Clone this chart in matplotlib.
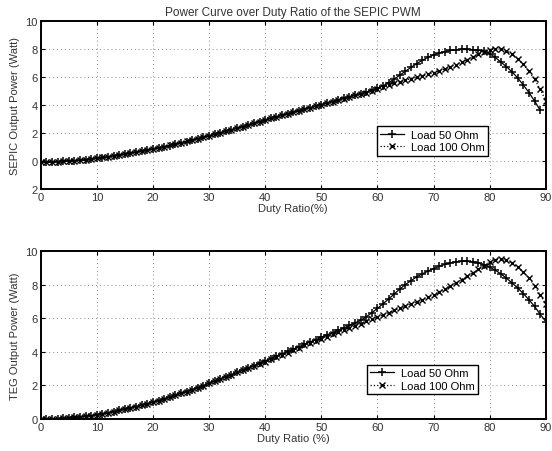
import numpy as np
from matplotlib import pyplot as plt

# duty ratio (%) and output power (W)
duty_sepic_50 = np.arange(0, 90)
duty_sepic_100 = np.arange(0, 91)
duty_teg = np.arange(0, 91)

sepic_50 = [-0.08, -0.07, -0.06, -0.05, -0.03, -0.01, 0.02, 0.05, 0.09, 0.14,
            0.19, 0.24, 0.30, 0.36, 0.42, 0.48, 0.55, 0.62, 0.69, 0.77,
            0.85, 0.93, 1.01, 1.10, 1.19, 1.28, 1.38, 1.48, 1.58, 1.68,
            1.78, 1.89, 2.00, 2.11, 2.22, 2.33, 2.44, 2.56, 2.68, 2.80,
            2.92, 3.03, 3.14, 3.25, 3.36, 3.47, 3.58, 3.69, 3.80, 3.91,
            4.02, 4.13, 4.24, 4.35, 4.46, 4.57, 4.68, 4.79, 4.91, 5.04,
            5.18, 5.36, 5.58, 5.84, 6.12, 6.40, 6.68, 6.94, 7.18, 7.39,
            7.56, 7.70, 7.80, 7.88, 7.93, 7.95, 7.95, 7.94, 7.90, 7.82,
            7.66, 7.38, 7.06, 6.72, 6.35, 5.92, 5.42, 4.88, 4.28, 3.62]

sepic_100 = [-0.07, -0.07, -0.06, -0.05, -0.03, -0.01, 0.02, 0.05, 0.09, 0.14,
             0.19, 0.25, 0.31, 0.37, 0.43, 0.49, 0.56, 0.63, 0.70, 0.78,
             0.86, 0.94, 1.02, 1.11, 1.20, 1.29, 1.39, 1.49, 1.59, 1.69,
             1.79, 1.90, 2.01, 2.12, 2.23, 2.34, 2.45, 2.57, 2.69, 2.81,
             2.92, 3.03, 3.14, 3.25, 3.36, 3.47, 3.58, 3.69, 3.80, 3.91,
             4.01, 4.12, 4.23, 4.34, 4.45, 4.56, 4.67, 4.78, 4.88, 5.00,
             5.13, 5.26, 5.40, 5.55, 5.66, 5.76, 5.86, 5.96, 6.06, 6.17,
             6.29, 6.42, 6.56, 6.71, 6.87, 7.04, 7.22, 7.41, 7.60, 7.78,
             7.93, 8.00, 7.97, 7.85, 7.62, 7.30, 6.88, 6.40, 5.82, 5.12,
             4.30]

teg_50 = [0.00, 0.00, 0.01, 0.02, 0.04, 0.06, 0.09, 0.12, 0.16, 0.20,
          0.25, 0.31, 0.37, 0.44, 0.51, 0.58, 0.66, 0.74, 0.82, 0.91,
          1.00, 1.10, 1.20, 1.30, 1.41, 1.52, 1.63, 1.75, 1.87, 1.99,
          2.12, 2.25, 2.38, 2.51, 2.64, 2.77, 2.90, 3.04, 3.18, 3.32,
          3.46, 3.60, 3.74, 3.88, 4.02, 4.16, 4.30, 4.44, 4.58, 4.72,
          4.86, 5.00, 5.14, 5.28, 5.42, 5.57, 5.72, 5.88, 6.08, 6.32,
          6.58, 6.86, 7.14, 7.44, 7.74, 8.00, 8.24, 8.46, 8.64, 8.80,
          8.95, 9.08, 9.20, 9.29, 9.35, 9.38, 9.38, 9.36, 9.30, 9.18,
          9.04, 8.86, 8.64, 8.38, 8.10, 7.80, 7.46, 7.10, 6.70, 6.24,
          5.80]

teg_100 = [0.00, 0.00, 0.01, 0.02, 0.04, 0.06, 0.09, 0.12, 0.16, 0.20,
           0.25, 0.31, 0.37, 0.44, 0.51, 0.58, 0.66, 0.74, 0.82, 0.91,
           1.00, 1.10, 1.20, 1.30, 1.41, 1.52, 1.63, 1.75, 1.87, 1.99,
           2.12, 2.25, 2.38, 2.51, 2.64, 2.77, 2.90, 3.03, 3.16, 3.29,
           3.42, 3.55, 3.68, 3.81, 3.95, 4.12, 4.25, 4.38, 4.51, 4.64,
           4.77, 4.90, 5.03, 5.16, 5.29, 5.42, 5.55, 5.68, 5.81, 5.94,
           6.07, 6.20, 6.33, 6.46, 6.59, 6.72, 6.85, 6.98, 7.11, 7.25,
           7.40, 7.56, 7.73, 7.91, 8.10, 8.30, 8.50, 8.70, 8.90, 9.10,
           9.35, 9.48, 9.50, 9.44, 9.28, 9.06, 8.76, 8.40, 7.94, 7.38,
           6.85]

x_ticks = [0, 10, 20, 30, 40, 50, 60, 70, 80, 90]
sepic_yticks = [-2, 0, 2, 4, 6, 8, 10]
sepic_yticklabels = ['2', '0', '2', '4', '6', '8', '10']
teg_yticks = [0, 2, 4, 6, 8, 10]

plt.rcParams['font.family'] = ['Liberation Sans', 'DejaVu Sans']
text_col = '#333333'

fig = plt.figure(figsize=(5.52, 4.52), dpi=100)
ax1 = fig.add_axes([0.0737, 0.5796, 0.915, 0.3723])
ax2 = fig.add_axes([0.0737, 0.0708, 0.915, 0.3717])


def style(ax):
    ax.set_xlim(0, 90)
    ax.set_xticks(x_ticks)
    ax.grid(True, linestyle=(0, (1, 3)), color='#8a8a8a', linewidth=0.7)
    ax.tick_params(direction='in', length=3, labelsize=8, colors='black',
                   labelcolor=text_col, top=True, right=True, pad=2)
    for s in ax.spines.values():
        s.set_linewidth(1.4)


ax1.plot(duty_sepic_50, sepic_50, 'k-', marker='+', markersize=6, linewidth=0.9,
         markeredgewidth=1.1, label='Load 50 Ohm')
ax1.plot(duty_sepic_100, sepic_100, 'k:', marker='x', markersize=4, linewidth=0.9,
         markeredgewidth=1.0, label='Load 100 Ohm')
style(ax1)
ax1.set_ylim(-2, 10)
ax1.set_yticks(sepic_yticks)
ax1.set_yticklabels(sepic_yticklabels)
ax1.set_title('Power Curve over Duty Ratio of the SEPIC PWM', fontsize=8.5,
              color=text_col, pad=4)
ax1.set_xlabel('Duty Ratio(%)', fontsize=8, color=text_col, labelpad=1)
ax1.set_ylabel('SEPIC Output Power (Watt)', fontsize=8, color=text_col, labelpad=4)
leg1 = ax1.legend(loc='lower right', bbox_to_anchor=(0.886, 0.198), fontsize=8,
                  frameon=True, fancybox=False, edgecolor='black', framealpha=1,
                  borderpad=0.3, handlelength=2.2, handletextpad=0.6,
                  labelspacing=0.25, borderaxespad=0)
leg1.get_frame().set_linewidth(1.0)

ax2.plot(duty_teg, teg_50, 'k-', marker='+', markersize=6, linewidth=0.9,
         markeredgewidth=1.1, label='Load 50 Ohm')
ax2.plot(duty_teg, teg_100, 'k:', marker='x', markersize=4, linewidth=0.9,
         markeredgewidth=1.0, label='Load 100 Ohm')
style(ax2)
ax2.set_ylim(0, 10)
ax2.set_yticks(teg_yticks)
ax2.set_xlabel('Duty Ratio (%)', fontsize=8, color=text_col, labelpad=1)
ax2.set_ylabel('TEG Output Power (Watt)', fontsize=8, color=text_col, labelpad=4)
leg2 = ax2.legend(loc='lower right', bbox_to_anchor=(0.866, 0.149), fontsize=8,
                  frameon=True, fancybox=False, edgecolor='black', framealpha=1,
                  borderpad=0.3, handlelength=2.2, handletextpad=0.6,
                  labelspacing=0.25, borderaxespad=0)
leg2.get_frame().set_linewidth(1.0)

plt.savefig('out.png', dpi=100)
